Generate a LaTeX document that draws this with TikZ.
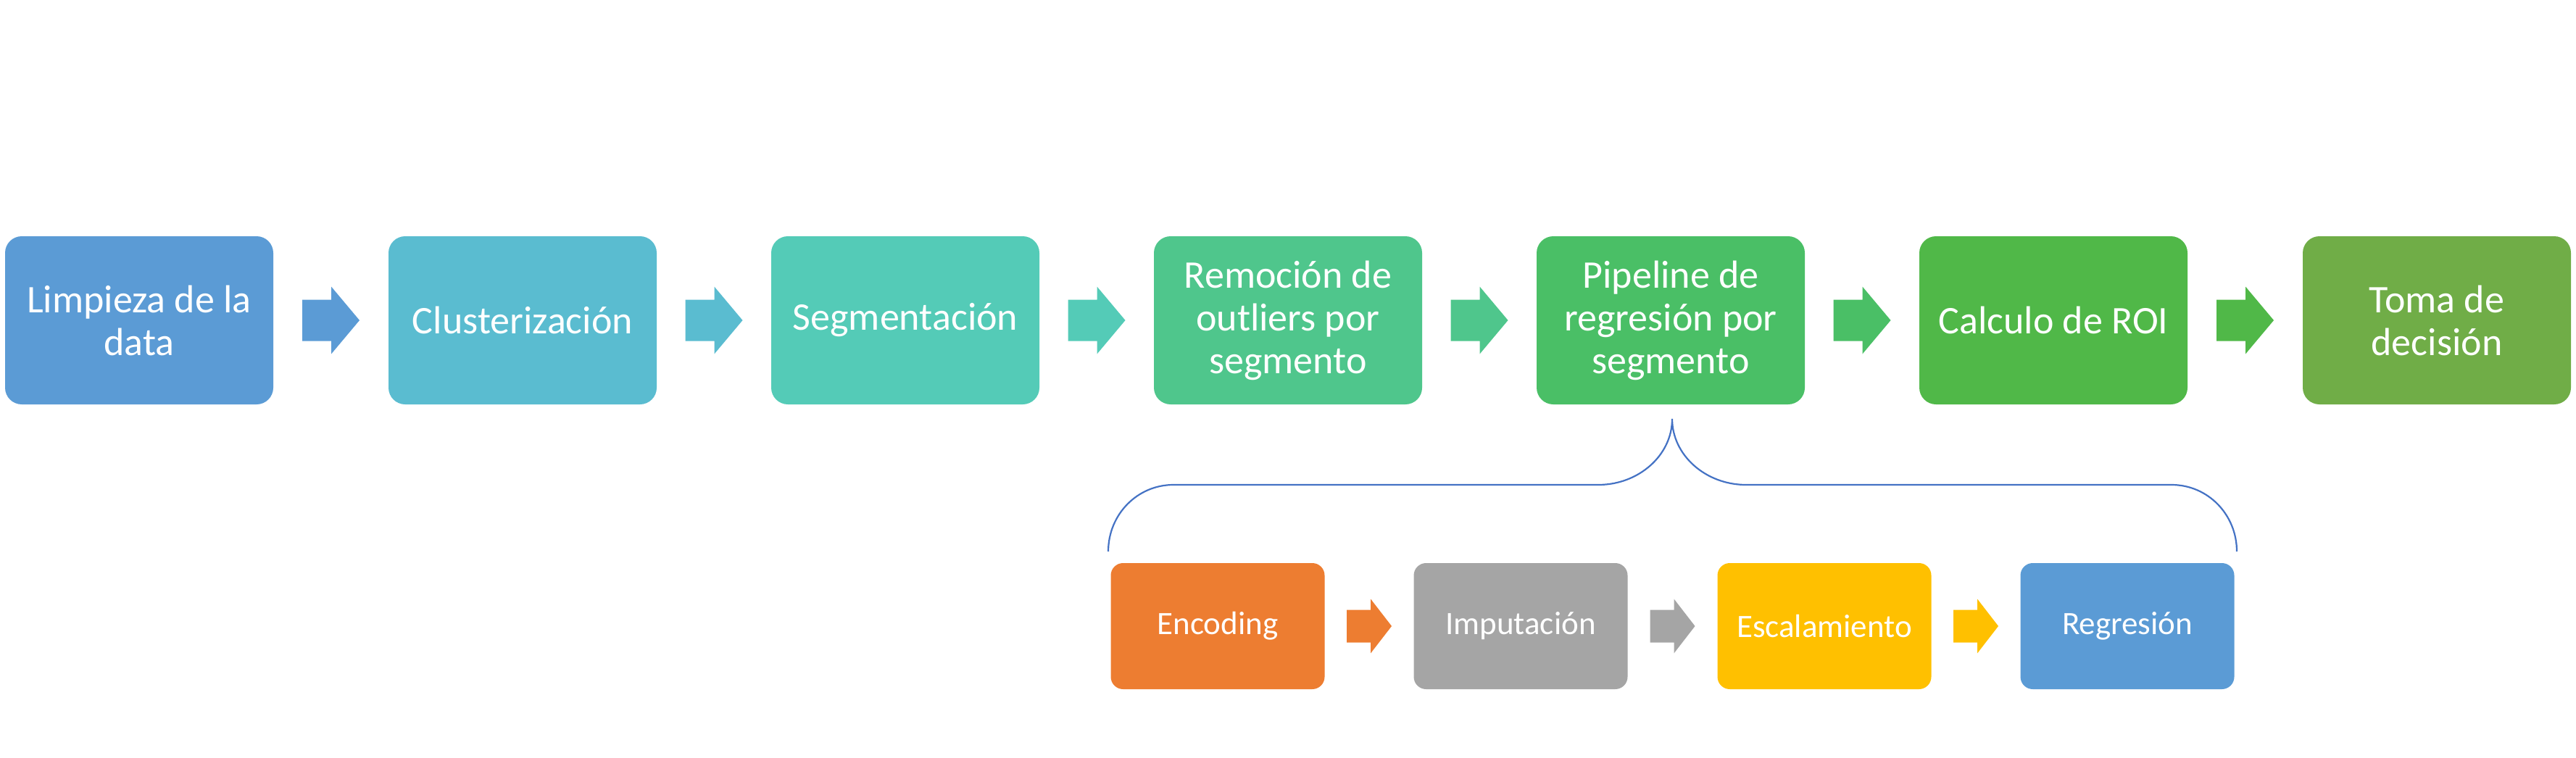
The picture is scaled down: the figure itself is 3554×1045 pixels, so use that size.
\documentclass[tikz,border=0pt]{standalone}
\usepackage{fontspec}
\setmainfont{Carlito}
\usetikzlibrary{calc}
\definecolor{cA}{HTML}{5B9BD5}
\definecolor{cB}{HTML}{5ABCD0}
\definecolor{cC}{HTML}{54CBB7}
\definecolor{cD}{HTML}{4FC68C}
\definecolor{cE}{HTML}{4ABF66}
\definecolor{cF}{HTML}{50B848}
\definecolor{cG}{HTML}{70AD47}
\definecolor{cOr}{HTML}{ED7D31}
\definecolor{cGr}{HTML}{A5A5A5}
\definecolor{cYe}{HTML}{FFC000}
\definecolor{cBl}{HTML}{5B9BD5}
\definecolor{cBrace}{HTML}{4472C4}
\newcommand{\flowarrow}[7]{%
  \fill[#1] ($(#2.east)!0.5!(#3.west)$) ++(-#4,-#5) -- ++({#4+#7},0) -- ++(0,{#5-#6})
    -- ++({#4-#7},#6) -- ++({-(#4-#7)},#6) -- ++(0,{#5-#6}) -- ++({-(#4+#7)},0) -- cycle;}
\tikzset{
  topbox/.style={rounded corners=23pt, minimum width=370pt, minimum height=232pt,
    inner sep=0pt, align=center, text=white, font=\fontsize{54}{59}\selectfont},
  botbox/.style={rounded corners=17pt, minimum width=295pt, minimum height=174pt,
    inner sep=0pt, align=center, text=white, font=\fontsize{45}{50}\selectfont},
  bracestyle/.style={draw=cBrace, line width=2.2pt}
}
\begin{document}
\begin{tikzpicture}[x=1pt,y=-1pt]
\useasboundingbox (0,0) rectangle (3554,1045);
% top row
\node[topbox, fill=cA] (b1) at (192,442) {Limpieza de la\\data};
\node[topbox, fill=cB] (b2) at (721,442) {Clusterización};
\node[topbox, fill=cC] (b3) at (1249,442) {Segmentación};
\node[topbox, fill=cD] (b4) at (1777,442) {Remoción de\\outliers por\\segmento};
\node[topbox, fill=cE] (b5) at (2305,442) {Pipeline de\\regresión por\\segmento};
\node[topbox, fill=cF] (b6) at (2833,442) {Calculo de ROI};
\node[topbox, fill=cG] (b7) at (3362,442) {Toma de\\decisión};
\flowarrow{cA}{b1}{b2}{39.5}{28.5}{46.5}{0.5}
\flowarrow{cB}{b2}{b3}{39.5}{28.5}{46.5}{0.5}
\flowarrow{cC}{b3}{b4}{39.5}{28.5}{46.5}{0.5}
\flowarrow{cD}{b4}{b5}{39.5}{28.5}{46.5}{0.5}
\flowarrow{cE}{b5}{b6}{39.5}{28.5}{46.5}{0.5}
\flowarrow{cF}{b6}{b7}{39.5}{28.5}{46.5}{0.5}
% bottom row
\node[botbox, fill=cOr] (s1) at (1680,864) {Encoding};
\node[botbox, fill=cGr] (s2) at (2098,864) {Imputación};
\node[botbox, fill=cYe] (s3) at (2517,864) {Escalamiento};
\node[botbox, fill=cBl] (s4) at (2935,864) {Regresión};
\flowarrow{cOr}{s1}{s2}{31}{22.5}{37.5}{2}
\flowarrow{cGr}{s2}{s3}{31}{22.5}{37.5}{2}
\flowarrow{cYe}{s3}{s4}{31}{22.5}{37.5}{2}
% brace
\coordinate (tip) at (2307,578);
\coordinate (bl) at (1529,761);
\coordinate (br) at (3086,761);
\draw[bracestyle] (bl) .. controls (1529,710) and (1569,669) .. (1619,669)
  -- (2205,669) .. controls (2261,669) and (2307,628) .. (tip)
  .. controls (2307,628) and (2353,669) .. (2409,669)
  -- (2996,669) .. controls (3046,669) and (3086,710) .. (br);
\end{tikzpicture}
\end{document}
